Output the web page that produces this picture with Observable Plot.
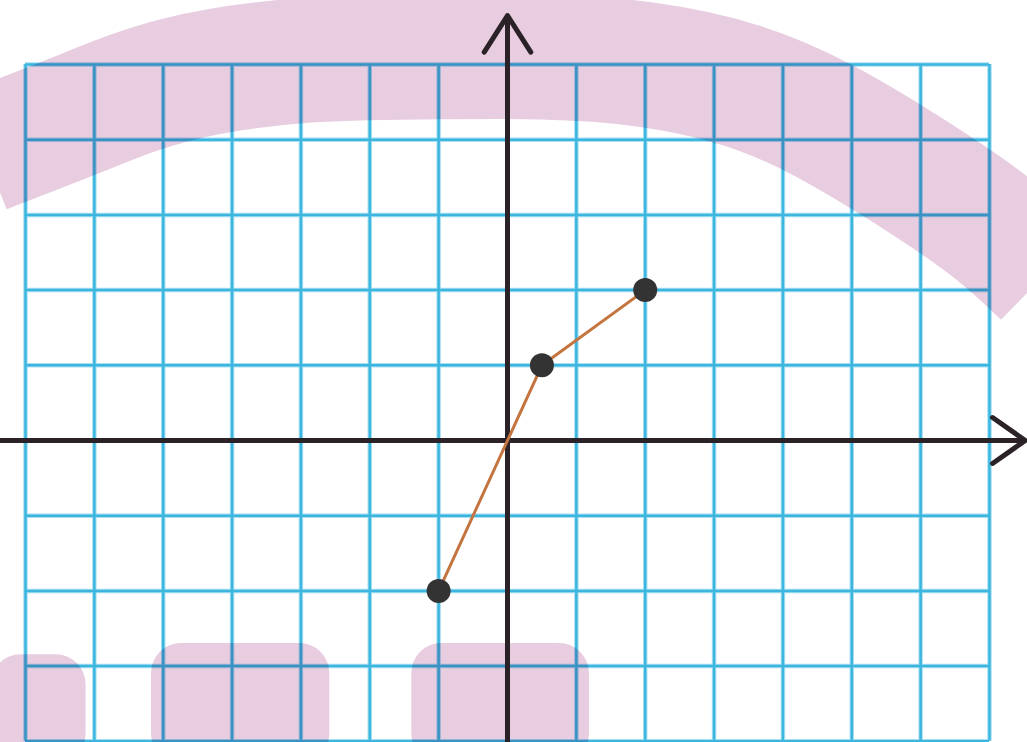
<!DOCTYPE html>
<html>
<head>
<meta charset="utf-8">
<script src="https://cdn.jsdelivr.net/npm/d3@7"></script>
<script src="https://cdn.jsdelivr.net/npm/@observablehq/plot@0.6"></script>
<style>
  html, body { margin: 0; padding: 0; background: #fff; overflow: hidden; }
  #chart svg { display: block; }
</style>
</head>
<body>
<div id="chart"></div>
<script>
// Plotted points of the function
const xs = [-1, 0.5, 2];
const ys = [-2, 1, 2];

// Grid extents (unit squares)
const gridX = d3.range(-7, 8);   // vertical lines
const gridY = d3.range(-4, 6);   // horizontal lines

// Visible window (data units)
const xDomain = [-7.363, 7.552];
const yDomain = [-4.016, 5.851];

// Axis arrows: [x1, y1, x2, y2]
const axisX = [-7.4, 0, 7.52, 0];
const axisY = [0, -4.1, 0, 5.65];

// Decorative pink band behind the grid (centreline, data units)
const bandX = [-7.6, -6.2, -4.8, -3.0, -1.2, 0.5, 2.0, 3.4, 4.6, 5.8, 7.0, 7.8];
const bandY = [3.85, 4.35, 4.8, 5.05, 5.1, 5.1, 5.0, 4.72, 4.25, 3.6, 2.85, 2.2];

// Decorative pink blobs at the bottom: [x1, x2, yTop]
const blobX1 = [-7.5, -5.17, -1.39];
const blobX2 = [-6.12, -2.58, 1.19];
const blobTop = [-2.85, -2.7, -2.7];

const pts = xs.map((x, i) => ({x, y: ys[i]}));
const band = bandX.map((x, i) => ({x, y: bandY[i]}));
const blobs = blobX1.map((x1, i) => ({x1, x2: blobX2[i], y1: -4.3, y2: blobTop[i]}));

const plot = Plot.plot({
  width: 1027,
  height: 742,
  margin: 0,
  style: {background: "#fff"},
  x: {domain: xDomain, axis: null},
  y: {domain: yDomain, axis: null},
  marks: [
    // grid
    Plot.ruleX(gridX, {x: d => d, y1: -4, y2: 5, stroke: "#a8e0f2", strokeWidth: 4.5}),
    Plot.ruleY(gridY, {y: d => d, x1: -7, x2: 7, stroke: "#a8e0f2", strokeWidth: 4.5}),
    Plot.ruleX(gridX, {x: d => d, y1: -4, y2: 5, stroke: "#3db6df", strokeWidth: 2.5}),
    Plot.ruleY(gridY, {y: d => d, x1: -7, x2: 7, stroke: "#3db6df", strokeWidth: 2.5}),
    // pink decoration (multiplied over grid)
    Plot.line(band, {x: "x", y: "y", curve: "natural", stroke: "#e8cde0", strokeWidth: 125, strokeLinecap: "butt", mixBlendMode: "multiply"}),
    Plot.rect(blobs, {x1: "x1", x2: "x2", y1: "y1", y2: "y2", fill: "#e8cde0", rx: 30, mixBlendMode: "multiply"}),
    // axes with arrowheads
    Plot.arrow([axisX], {x1: d => d[0], y1: d => d[1], x2: d => d[2], y2: d => d[3], stroke: "#2b2228", strokeWidth: 5, headAngle: 70, headLength: 12}),
    Plot.arrow([axisY], {x1: d => d[0], y1: d => d[1], x2: d => d[2], y2: d => d[3], stroke: "#2b2228", strokeWidth: 5, headAngle: 65, headLength: 13}),
    // function graph
    Plot.line(pts, {x: "x", y: "y", stroke: "#c4743e", strokeWidth: 3}),
    Plot.dot(pts, {x: "x", y: "y", r: 12, fill: "#333333"})
  ]
});
document.getElementById("chart").appendChild(plot);
</script>
</body>
</html>
